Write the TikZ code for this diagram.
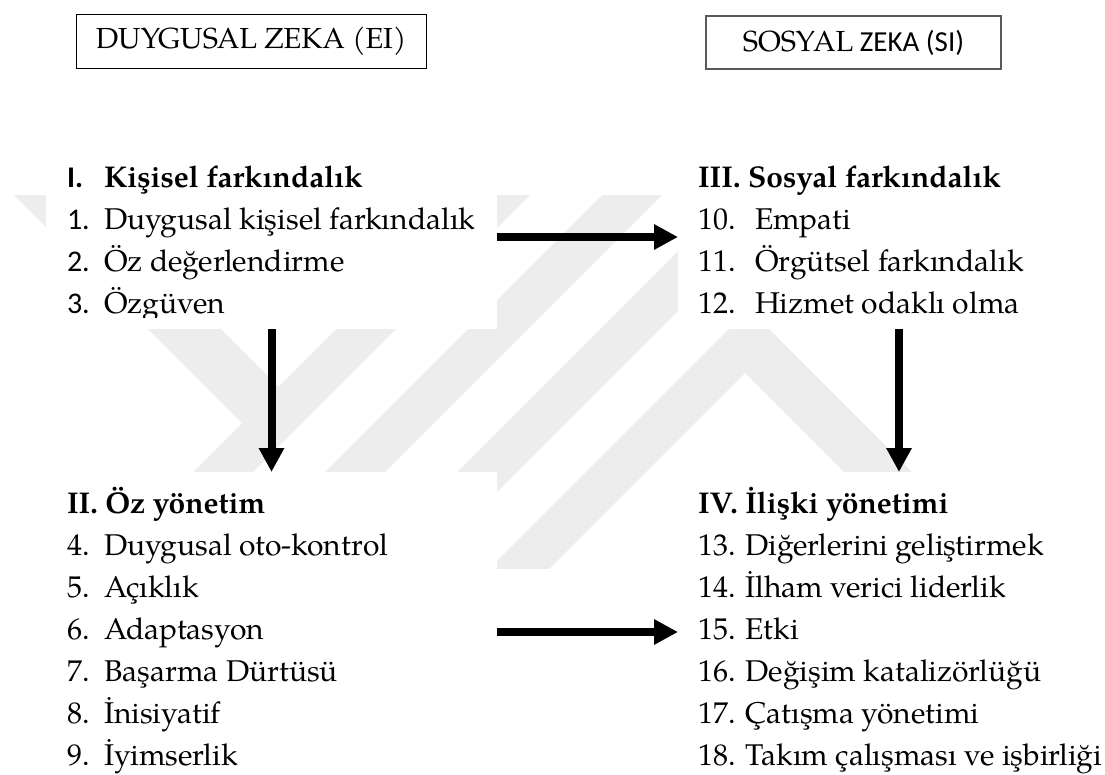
\documentclass[tikz,border=0pt]{standalone}
\usepackage{fontspec}
\setmainfont{TeX Gyre Pagella}
\newfontfamily\calibfont{Carlito}
\usetikzlibrary{arrows.meta}
\begin{document}
\begin{tikzpicture}[x=1pt,y=-1pt,
  every node/.style={inner sep=0pt, outer sep=0pt, font=\fontsize{30}{36}\selectfont},
  row/.style={anchor=base west},
  hd/.style={anchor=base west, font=\fontsize{30}{36}\selectfont\bfseries},
  sansnum/.style={anchor=base west, font=\fontsize{30}{36}\selectfont\calibfont},
  titlebox/.style={draw, line width=1pt, font=\fontsize{29}{34}\selectfont},
  shield/.style={fill=white, draw=none},
  wmband/.style={fill=black!7, draw=none},
  flow/.style={line width=8pt, -{Triangle[length=24pt,width=24pt]}}
]
\useasboundingbox (0,0) rectangle (1105,774);

% light background emblem
\begin{scope}
  \clip (0,195) rectangle (1105,568);
  \fill[wmband] (-31,150) -- (42,150) -- (296,404) -- (259.5,440.5) -- cycle;
  \fill[wmband] (515,150) -- (575,150) -- (125,600) -- (65,600) -- cycle;
  \fill[wmband] (647,150) -- (707,150) -- (257,600) -- (197,600) -- cycle;
  \fill[wmband] (779,150) -- (839,150) -- (389,600) -- (329,600) -- cycle;
  \fill[wmband] (749,309) -- (1040,600) -- (972,600) -- (745,373) -- (518,600) -- (458,600) -- cycle;
\end{scope}

% white panels behind the four lists
\node[shield, minimum width=451pt, minimum height=134pt] (tl) at (271.5,262) {};
\node[shield, minimum width=442pt, minimum height=134pt] (tr) at (899,262) {};
\node[shield, minimum width=451pt, minimum height=302pt] (bl) at (271.5,623) {};
\node[shield, minimum width=442pt, minimum height=302pt] (br) at (899,623) {};

% titles
\node[titlebox, minimum width=350pt, minimum height=54pt] (ei) at (251,41) {DUYGUSAL ZEKA (EI)};
\node[titlebox, draw=black!65, line width=1.5pt, minimum width=295pt, minimum height=53pt] (si) at (853.5,42.5) {SOSYAL{\calibfont\ ZEKA (SI)}};

% I. Kişisel farkındalık
\node[sansnum, font=\fontsize{30}{36}\selectfont\calibfont\bfseries] (h1n) at (67,187) {I.};
\node[hd] (h1) at (104,187) {Kişisel farkındalık};
\node[sansnum] (n1) at (67,229) {1.};
\node[row] (t1) at (104,229) {Duygusal kişisel farkındalık};
\node[sansnum] (n2) at (67,271) {2.};
\node[row] (t2) at (104,271) {Öz değerlendirme};
\node[sansnum] (n3) at (67,313) {3.};
\begin{scope}
  % the text frame of this list cuts the last descender
  \clip (0,0) rectangle (1105,317);
  \node[row] (t3) at (104,313) {Özgüven};
\end{scope}

% III. Sosyal farkındalık
\node[hd] (h3) at (698,187) {III. Sosyal farkındalık};
\node[row] (n10) at (698,229) {10.};
\node[row] (t10) at (755,229) {Empati};
\node[row] (n11) at (698,271) {11.};
\node[row] (t11) at (755,271) {Örgütsel farkındalık};
\node[row] (n12) at (698,313) {12.};
\node[row] (t12) at (755,313) {Hizmet odaklı olma};

% II. Öz yönetim
\node[hd] (h2) at (67,513) {II. Öz yönetim};
\node[row] (n4) at (67,555) {4.};
\node[row] (t4) at (104,555) {Duygusal oto-kontrol};
\node[row] (n5) at (67,597) {5.};
\node[row] (t5) at (104,597) {Açıklık};
\node[row] (n6) at (67,639) {6.};
\node[row] (t6) at (104,639) {Adaptasyon};
\node[row] (n7) at (67,681) {7.};
\node[row] (t7) at (104,681) {Başarma Dürtüsü};
\node[row] (n8) at (67,723) {8.};
\node[row] (t8) at (104,723) {İnisiyatif};
\node[row] (n9) at (67,765) {9.};
\node[row] (t9) at (104,765) {İyimserlik};

% IV. İlişki yönetimi
\node[hd] (h4) at (698,513) {IV. İlişki yönetimi};
\node[row] (t13) at (698,555) {13. Diğerlerini geliştirmek};
\node[row] (t14) at (698,597) {14. İlham verici liderlik};
\node[row] (t15) at (698,639) {15. Etki};
\node[row] (t16) at (698,681) {16. Değişim katalizörlüğü};
\node[row] (t17) at (698,723) {17. Çatışma yönetimi};
\node[row] (t18) at (698,765) {18. Takım çalışması ve işbirliği};

% arrows between the four groups
\draw[flow] ([yshift=25pt]tl.east) -- ([yshift=25pt]tr.west);
\draw[flow] (tl.south) -- (bl.north);
\draw[flow] (tr.south) -- (br.north);
\draw[flow] ([yshift=-9pt]bl.east) -- ([yshift=-9pt]br.west);
\end{tikzpicture}
\end{document}
